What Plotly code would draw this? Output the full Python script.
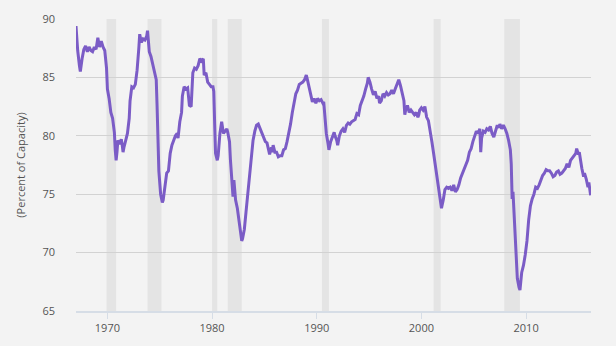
import plotly.graph_objects as go

dates = ["1967-01","1967-02","1967-03","1967-05","1967-06","1967-08","1967-10","1967-12",
"1968-02","1968-04","1968-06","1968-08","1968-10","1968-12",
"1969-02","1969-04","1969-06","1969-08","1969-10","1969-12",
"1970-01","1970-03","1970-05","1970-07","1970-09","1970-10","1970-11","1970-12",
"1971-01","1971-03","1971-05","1971-06","1971-07","1971-08","1971-10","1971-12",
"1972-02","1972-03","1972-05","1972-07","1972-09","1972-11",
"1973-01","1973-02","1973-04","1973-06","1973-08","1973-10","1973-11",
"1974-01","1974-03","1974-05","1974-07","1974-09","1974-10","1974-11","1974-12",
"1975-02","1975-04","1975-05","1975-07","1975-09","1975-11",
"1976-01","1976-03","1976-05","1976-07","1976-09","1976-10","1976-12",
"1977-02","1977-03","1977-05","1977-07","1977-09","1977-11","1978-01",
"1978-03","1978-05","1978-07","1978-09","1978-11",
"1979-01","1979-03","1979-04","1979-06","1979-08","1979-10","1979-12",
"1980-02","1980-03","1980-04","1980-05","1980-07","1980-08","1980-10","1980-12",
"1981-02","1981-04","1981-06","1981-07","1981-09","1981-10","1981-11","1981-12",
"1982-01","1982-02","1982-04","1982-06","1982-08","1982-10","1982-11","1982-12",
"1983-02","1983-04","1983-06","1983-08","1983-10","1983-12",
"1984-02","1984-04","1984-06","1984-08","1984-10","1984-12",
"1985-02","1985-04","1985-06","1985-07","1985-09","1985-10","1985-11",
"1986-01","1986-03","1986-05","1986-07","1986-09","1986-11",
"1987-01","1987-03","1987-05","1987-07","1987-09","1987-11",
"1988-01","1988-03","1988-05","1988-07","1988-09","1988-11",
"1989-01","1989-02","1989-04","1989-06","1989-08","1989-10","1989-12",
"1990-02","1990-04","1990-06","1990-08","1990-09","1990-10","1990-12",
"1991-02","1991-03","1991-05","1991-07","1991-09","1991-10","1991-12",
"1992-01","1992-03","1992-05","1992-07","1992-09","1992-11",
"1993-01","1993-03","1993-05","1993-07","1993-09","1993-11",
"1994-01","1994-03","1994-05","1994-07","1994-09","1994-11","1994-12",
"1995-02","1995-04","1995-06","1995-08","1995-10","1995-12",
"1996-01","1996-03","1996-05","1996-07","1996-09","1996-11",
"1997-01","1997-03","1997-05","1997-07","1997-09","1997-11",
"1998-01","1998-03","1998-05","1998-06","1998-07","1998-09","1998-11",
"1999-01","1999-03","1999-05","1999-07","1999-09","1999-10","1999-11",
"2000-01","2000-03","2000-05","2000-07","2000-09","2000-11",
"2001-01","2001-03","2001-05","2001-07","2001-09","2001-11","2001-12",
"2002-02","2002-04","2002-06","2002-08","2002-10","2002-12",
"2003-02","2003-04","2003-06","2003-08","2003-10","2003-12",
"2004-02","2004-04","2004-06","2004-08","2004-10","2004-12",
"2005-02","2005-04","2005-06","2005-08","2005-09","2005-10","2005-12",
"2006-02","2006-04","2006-06","2006-08","2006-10","2006-12",
"2007-02","2007-04","2007-06","2007-07","2007-09","2007-11",
"2008-01","2008-03","2008-05","2008-07","2008-08","2008-09","2008-10","2008-11","2008-12",
"2009-01","2009-02","2009-03","2009-05","2009-06","2009-08","2009-10","2009-12",
"2010-02","2010-04","2010-06","2010-08","2010-10","2010-12",
"2011-02","2011-04","2011-06","2011-08","2011-10","2011-12",
"2012-02","2012-04","2012-06","2012-08","2012-10","2012-12",
"2013-02","2013-04","2013-06","2013-08","2013-10","2013-12",
"2014-02","2014-04","2014-06","2014-08","2014-10","2014-11",
"2015-01","2015-02","2015-03","2015-05","2015-07","2015-08","2015-10","2015-12",
"2016-01","2016-02","2016-03"]

capacity = [89.4,87.5,87.3,86.0,85.5,86.6,87.4,87.7,
87.2,87.6,87.3,87.2,87.6,87.4,
88.4,87.6,88.1,87.6,87.3,85.8,
84.0,83.2,82.0,81.5,80.3,78.8,77.9,78.6,
79.6,79.3,79.7,79.2,78.6,79.0,79.7,80.2,
81.5,83.0,84.2,84.1,84.4,85.6,
87.5,88.7,88.0,88.3,88.2,88.5,89.0,
87.2,86.8,86.2,85.5,84.8,82.5,79.5,77.0,
75.0,74.3,74.5,75.8,76.8,77.0,
78.5,79.2,79.6,80.0,80.2,79.8,81.2,
82.0,83.4,84.2,84.0,84.1,82.6,82.5,
85.4,85.8,85.7,86.0,86.6,
86.4,86.6,85.2,85.4,84.6,84.4,84.2,
84.2,83.8,81.0,78.5,77.9,78.3,80.2,81.2,
80.2,80.4,80.6,80.3,79.5,78.0,76.8,75.5,
74.8,76.2,74.5,73.8,72.8,71.5,71.0,71.2,
72.0,73.5,75.0,77.0,78.0,79.6,
80.4,80.9,81.0,80.6,80.2,79.8,
79.5,79.4,78.8,78.4,79.0,78.6,79.2,
78.6,78.6,78.2,78.3,78.3,78.8,
78.9,79.5,80.2,81.0,82.0,83.0,
83.6,83.9,84.4,84.5,84.6,84.8,
85.2,84.9,84.3,83.6,82.9,83.2,82.8,
83.2,83.0,83.1,82.8,82.9,82.0,80.2,
79.3,78.8,79.5,80.0,80.3,80.0,79.6,
79.2,80.0,80.4,80.6,80.3,80.9,
81.1,81.0,81.2,81.3,81.4,81.9,
81.8,82.6,83.0,83.4,84.0,84.5,85.0,
84.6,84.0,83.5,83.8,83.2,83.4,
82.8,83.0,83.6,83.4,83.7,83.5,
83.6,83.9,83.6,84.0,84.4,84.8,
84.3,83.6,83.0,81.8,82.2,82.6,82.0,
82.2,82.0,81.8,82.0,81.6,81.8,82.2,
82.4,82.2,82.5,81.6,81.3,80.5,
79.5,78.5,77.4,76.3,75.2,74.2,73.8,
74.5,75.4,75.6,75.5,75.6,75.3,
75.8,75.2,75.4,75.8,76.4,76.8,
77.2,77.6,77.9,78.6,78.9,79.5,
80.0,80.4,80.2,80.6,78.6,79.8,80.4,
80.3,80.6,80.5,80.8,80.2,79.9,
80.4,80.9,80.7,81.0,80.6,80.9,
80.6,80.2,79.6,78.8,77.6,74.6,75.2,73.4,71.6,
70.0,69.0,67.8,67.0,66.8,68.3,68.9,69.8,
71.0,72.8,74.0,74.6,75.0,75.6,
75.5,75.8,76.2,76.6,76.8,77.1,
77.0,77.0,76.8,76.5,76.6,76.9,
77.0,76.7,76.8,77.0,77.2,77.6,
77.3,77.9,78.1,78.4,78.5,78.9,
78.4,78.6,78.0,77.2,76.5,76.8,76.3,75.6,
76.0,75.5,74.9]

recession_starts = ["1969-12-01","1973-11-01","1980-01-01","1981-07-01","1990-07-01","2001-03-01","2007-12-01"]
recession_ends   = ["1970-11-01","1975-03-01","1980-07-01","1982-11-01","1991-03-01","2001-11-01","2009-06-01"]

y_ticks = [65, 70, 75, 80, 85, 90]
x_ticks = ["1970-01-01", "1980-01-01", "1990-01-01", "2000-01-01", "2010-01-01"]
x_tick_labels = ["1970", "1980", "1990", "2000", "2010"]

fig = go.Figure()

for s, e in zip(recession_starts, recession_ends):
    fig.add_vrect(x0=s, x1=e, fillcolor="#e4e4e4", opacity=1, line_width=0, layer="below")

fig.add_trace(go.Scatter(
    x=[d + "-01" for d in dates], y=capacity, mode="lines",
    line=dict(color="#7b5cc6", width=3), hoverinfo="x+y", showlegend=False))

fig.update_layout(
    width=616, height=346,
    margin=dict(l=76, r=25, t=11, b=33),
    paper_bgcolor="#f3f3f3", plot_bgcolor="#f3f3f3",
    font=dict(family="Open Sans", size=11, color="#555555"),
)
fig.update_xaxes(
    type="date", range=["1967-01-01", "2016-03-15"],
    tickvals=x_ticks, ticktext=x_tick_labels,
    showgrid=False, showline=True, linecolor="#d6dde6", linewidth=1.5,
    ticks="outside", ticklen=6, tickcolor="#d6dde6", zeroline=False,
)
fig.update_yaxes(
    range=[65, 90], tickvals=y_ticks,
    showgrid=True, gridcolor="#d2d2d2", gridwidth=1, zeroline=False,
    showline=False, ticks="", ticklabelstandoff=20,
    title=dict(text="(Percent of Capacity)", font=dict(size=11, color="#555555"), standoff=14),
)

fig.write_html("out.html")
